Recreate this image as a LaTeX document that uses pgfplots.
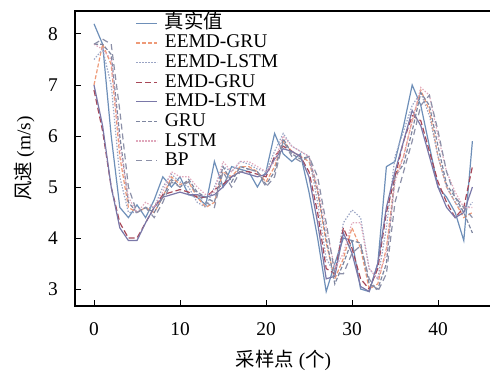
\documentclass[border=0pt]{standalone}
\usepackage{pgfplots}
\usepackage{pgfplotstable}
\pgfplotsset{compat=1.18}
\usepackage{fontspec}
\setmainfont{Liberation Serif}
\newfontfamily\cjk{Noto Sans CJK SC}

\definecolor{cTrue}{HTML}{6E8FB8}
\definecolor{cEEGRU}{HTML}{EE9A78}
\definecolor{cEELSTM}{HTML}{9AA4C4}
\definecolor{cEMDGRU}{HTML}{A84858}
\definecolor{cEMDLSTM}{HTML}{7A78A8}
\definecolor{cGRU}{HTML}{7E86A0}
\definecolor{cLSTM}{HTML}{E0A8BC}
\definecolor{cBP}{HTML}{8C90A8}

\pgfplotstableread{
x  T     EEG   EEL   EMG   EML   GRU   LSTM  BP
0  8.20  7.00  7.50  6.90  7.00  7.80  7.80  7.80
1  7.80  7.80  7.70  6.10  6.20  7.80  7.70  7.90
2  6.00  7.40  7.00  5.00  5.00  7.60  7.50  7.80
3  4.60  5.60  5.20  4.30  4.20  6.00  5.80  6.50
4  4.40  4.60  4.50  4.00  3.95  4.70  4.80  5.00
5  4.65  4.50  4.50  4.00  3.95  4.50  4.50  4.50
6  4.40  4.60  4.60  4.30  4.30  4.60  4.70  4.60
7  4.75  4.50  4.60  4.60  4.60  4.50  4.60  4.40
8  5.20  4.80  5.00  4.85  4.80  4.80  4.90  4.70
9  5.00  5.20  5.25  4.90  4.85  5.15  5.30  5.10
10 5.20  5.05  5.10  4.95  4.90  5.00  5.20  5.00
11 4.85  5.10  5.00  4.90  4.85  5.15  5.20  5.10
12 4.80  4.80  4.70  4.80  4.85  4.90  5.00  4.85
13 4.65  4.60  4.60  4.80  4.80  4.80  4.85  4.70
14 5.50  4.70  5.00  4.95  4.85  4.70  4.90  4.60
15 5.00  5.30  5.40  5.05  5.00  5.40  5.50  5.30
16 5.40  5.20  5.30  5.20  5.20  5.10  5.30  5.00
17 5.35  5.40  5.50  5.30  5.30  5.40  5.50  5.30
18 5.30  5.40  5.45  5.30  5.25  5.35  5.50  5.35
19 5.00  5.30  5.35  5.25  5.20  5.30  5.40  5.30
20 5.30  5.10  5.30  5.20  5.25  5.05  5.30  5.00
21 6.05  5.40  5.70  5.60  5.55  5.30  5.50  5.20
22 5.65  5.90  6.05  5.80  5.75  5.95  6.00  5.90
23 5.50  5.70  5.80  5.70  5.70  5.65  5.80  5.60
24 5.65  5.60  5.70  5.60  5.60  5.55  5.70  5.50
25 4.90  5.50  5.60  5.30  5.20  5.60  5.60  5.60
26 4.00  4.90  4.70  4.50  4.30  4.95  5.00  5.20
27 2.95  3.90  3.60  3.40  3.20  4.00  4.20  4.30
28 3.50  3.20  3.30  3.30  3.25  3.10  3.40  3.30
29 4.00  3.60  4.30  4.20  4.10  3.50  3.70  3.30
30 3.95  4.20  4.55  3.80  3.70  3.95  4.30  3.70
31 3.00  3.80  4.40  3.20  3.05  3.90  4.30  3.85
32 2.95  3.00  3.40  3.00  2.95  3.10  3.40  3.20
33 3.50  3.10  3.20  3.40  3.50  3.00  3.20  2.95
34 5.40  3.80  4.20  4.50  4.60  3.50  3.70  3.30
35 5.50  5.20  5.60  5.20  5.30  5.20  5.10  4.70
36 6.20  5.60  6.10  5.90  5.90  5.45  5.60  5.30
37 7.00  6.30  6.60  6.40  6.50  6.10  6.30  5.90
38 6.60  6.90  6.85  6.30  6.20  6.85  6.95  6.60
39 5.80  6.50  6.40  5.70  5.60  6.60  6.80  6.80
40 5.00  5.60  5.60  5.10  5.00  5.80  6.00  6.10
41 4.80  5.00  5.00  4.70  4.60  5.05  5.30  5.30
42 4.50  4.70  4.70  4.40  4.40  4.80  4.90  4.80
43 3.95  4.40  4.50  4.60  4.50  4.50  4.60  4.60
44 5.90  4.50  4.70  5.40  5.00  4.10  4.60  4.40
}\data

\begin{document}
\begin{tikzpicture}
\begin{axis}[
  at={(0pt,0pt)}, anchor=south west,
  scale only axis,
  width=208.5pt, height=147.5pt,
  xmin=-2.21, xmax=46.28,
  ymin=2.667, ymax=8.451,
  xtick={0,10,20,30,40},
  ytick={3,4,5,6,7,8},
  tick pos=left, tick align=inside,
  major tick length=3pt,
  axis line style={line width=0.7pt},
  every tick/.style={line width=0.5pt, black},
  font=\fontsize{9.7}{10}\selectfont,
  /pgf/number format/assume math mode=true,
  xticklabel style={yshift=-5pt},
  yticklabel style={xshift=-5pt},
  xlabel={{\cjk 采样点} ({\cjk 个})},
  ylabel={{\cjk 风速} (m/s)},
  legend cell align=left,
  legend style={draw=none, fill=none, at={(axis description cs:0.14,1.0)}, anchor=north west,
    font=\fontsize{9.7}{9.7}\selectfont, row sep=-0.2pt, column sep=3pt, inner sep=1pt,
    nodes={inner sep=0.5pt, text height=7pt, text depth=2pt}},
  legend image code/.code={\draw[#1] plot coordinates {(0pt,0pt) (10.5pt,0pt)};},
  every axis plot/.append style={line width=0.6pt},
]
\addplot[cTrue, solid] table[x=x,y=T]{\data};
\addlegendentry{{\cjk 真实值}}
\addplot[cEEGRU, dash pattern=on 2pt off 1pt] table[x=x,y=EEG]{\data};
\addlegendentry{EEMD-GRU}
\addplot[cEELSTM, dash pattern=on 0.7pt off 0.8pt] table[x=x,y=EEL]{\data};
\addlegendentry{EEMD-LSTM}
\addplot[cEMDGRU, dash pattern=on 3pt off 1.5pt] table[x=x,y=EMG]{\data};
\addlegendentry{EMD-GRU}
\addplot[cEMDLSTM, solid] table[x=x,y=EML]{\data};
\addlegendentry{EMD-LSTM}
\addplot[cGRU, dash pattern=on 2pt off 1pt] table[x=x,y=GRU]{\data};
\addlegendentry{GRU}
\addplot[cLSTM, dash pattern=on 0.7pt off 0.8pt] table[x=x,y=LSTM]{\data};
\addlegendentry{LSTM}
\addplot[cBP, dash pattern=on 3pt off 2pt] table[x=x,y=BP]{\data};
\addlegendentry{BP}
\end{axis}
\pgfresetboundingbox
\useasboundingbox (-37.5pt,-32.5pt) rectangle (207.5pt,153pt);
\end{tikzpicture}
\end{document}
